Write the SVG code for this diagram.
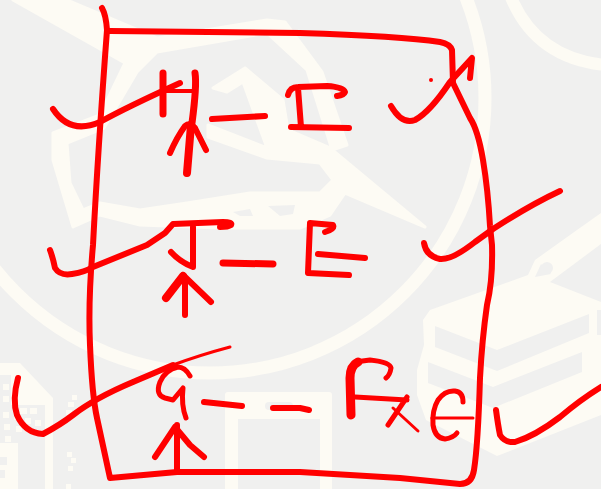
<svg xmlns="http://www.w3.org/2000/svg" width="601" height="489" viewBox="0 0 601 489">
<style>
.bg{fill:#f0f0ef}
.c{fill:#fdfbf4}
.g{fill:#f0f0ef}
.r{fill:none;stroke:#ff0000;stroke-width:6;stroke-linecap:round;stroke-linejoin:round}
</style>
<rect class="bg" width="601" height="489"/>
<g id="background">
<circle cx="210" cy="98" r="275" fill="none" stroke="#fdfbf4" stroke-width="13"/>
<path fill="none" stroke="#fdfbf4" stroke-width="12" d="M510,-5Q535,58 605,65"/>
<path class="c" stroke="#fdfbf4" stroke-width="3" stroke-linejoin="round" d="M13,0L67,0L157,38L267,20L285,22L322,72L347,145L332,150L307,70L267,33L157,52L137,72L104,128L67,143L70,183L83,210L100,203L140,210L187,203L250,193L320,193L333,180L320,163L267,158L208,137L208,125L267,148L243,82L227,92L213,88L245,68L283,100L288,130L330,148L425,227L345,193L330,215L300,228L220,228L140,225L100,215L73,227L53,160L53,133L100,115L125,63Z"/>
<path class="g" d="M233,212L250,209L253,216L240,216ZM268,206L295,205L293,214L280,216Z"/>
<polygon class="c" points="423,320 430,310 528,275 535,260 577,230 601,213 601,415 497,456 426,420 417,395 417,370 424,345"/>
<ellipse class="g" cx="547" cy="268" rx="6" ry="6"/>
<polygon class="g" points="535,277 541,264 551,274"/>
<polygon class="g" points="435,326 497,350 589,314 589,333 497,371 435,347"/>
<polygon class="g" points="428,362 493,387 582,352 582,372 493,408 428,383"/>
<polygon class="g" points="550,282 601,244 601,302"/>
<polygon class="g" points="597,310 601,310 601,335 597,335"/>
<polygon class="c" points="0,363 20,363 53,398 53,489 0,489"/>
<rect class="g" x="0" y="375" width="11" height="32"/>
<rect class="g" x="0" y="405" width="45" height="84"/>
<rect class="c" x="0" y="443" width="18" height="46"/>
<rect class="g" x="0" y="457" width="7" height="8"/>
<rect class="g" x="0" y="470" width="5" height="8"/>
<path class="c" d="M13,378h6v6h-6zM3,384h6v6h-6zM3,396h6v6h-6zM20,408h7v6h-7zM30,408h7v6h-7zM3,412h6v6h-6zM14,414h6v6h-6zM25,418h6v6h-6zM35,420h6v6h-6zM4,424h6v6h-6zM16,426h6v6h-6zM5,436h6v6h-6zM68,402h6v5h-6zM72,395h5v5h-5zM66,410h6v5h-6zM67,452h5v5h-5zM71,458h5v5h-5zM68,466h5v5h-5zM66,484h5v5h-5z"/>
<path class="c" fill-rule="evenodd" d="M225,395Q225,392 228,392H329Q332,392 332,395V489H320V419H238V489H225Z"/>
<rect class="g" x="265" y="402" width="28" height="8" rx="4"/>
</g>
<g id="drawing" class="r">
<path id="box" d="M102,8Q106,15 107,30Q98,150 93,245Q88,300 90,345Q92,395 97,418L110,478L177,472L300,472L400,478L460,484Q472,484 474,470Q478,445 480,378Q482,340 487,305Q493,280 492,245L490,226Q488,190 483,160Q478,130 470,118L453,83L452,50Q450,44 440,42Q400,36 300,33L110,31"/>
<path id="hook-h" d="M53,109Q70,135 100,122Q127,107 180,83"/>
<path id="H" stroke-width="7" d="M163,73L163,114M195,73Q197,85 192,123"/>
<path stroke-width="4" d="M163,91L195,91"/>
<path id="arrow-h" d="M170,153Q177,137 185,126Q190,122 195,128L206,150"/>
<path stroke-width="8" d="M191,125L187,173"/>
<path d="M212,119L265,116"/>
<path id="I" d="M288,95Q290,87 298,87L327,86Q343,87 345,92Q344,95 337,96M298,88L301,127M291,127L349,128"/>
<path id="hook-i" d="M391,106Q402,125 415,120Q430,112 450,82L472,58L470,78"/>
<circle cx="431" cy="80" r="2" fill="#ff0000" stroke="none"/>
<path id="hook-j" d="M50,250Q53,258 55,268Q60,276 72,274Q85,272 93,267L147,245L165,233L173,224L223,222Q233,222 231,225Q228,227 220,227"/>
<path id="J" d="M193,227L193,267Q180,262 171,252"/>
<path id="arrow-j" d="M185,278L185,315M183,275L211,302"/>
<path stroke-width="8" d="M166,298L183,276"/>
<path stroke-width="7" d="M223,263L273,264"/>
<path id="E1" d="M325,232Q335,229 333,225L310,223L308,273L349,275M318,254L365,258"/>
<path id="hook-e" d="M424,243Q426,256 440,259Q452,260 475,242L493,229Q530,205 560,191"/>
<path id="hook-g" d="M18,378Q12,400 17,415Q25,433 43,434Q60,425 73,415Q95,398 133,382L173,365"/>
<path stroke-width="3" d="M173,365Q200,355 230,347"/>
<path id="G" stroke-width="5" d="M190,376Q185,367 178,367Q165,370 160,382Q155,395 165,398L173,400L183,388Q181,405 186,418"/>
<path id="arrow-g" d="M177,425L177,472M155,457L175,427L190,445L204,457"/>
<path d="M204,402L242,406M273,408L300,408L309,410"/>
<path id="F" stroke-width="5" d="M355,362L370,360Q390,362 391,368Q390,375 386,378"/>
<path stroke-width="9" d="M351,415L350,378Q350,366 358,362"/>
<path id="Fx" stroke-width="5" d="M355,397L407,400M407,397L388,425"/>
<path stroke-width="3" d="M393,408L418,431"/>
<path id="E2" stroke-width="5" d="M463,402Q463,392 455,391Q445,390 438,400Q432,410 433,425Q435,438 445,439Q453,438 457,433"/>
<path stroke-width="3" d="M432,418L473,418"/>
<path id="hook-f" d="M496,410Q498,425 500,435Q505,443 515,442Q535,436 560,417Q580,400 601,387"/>
</g>
</svg>
